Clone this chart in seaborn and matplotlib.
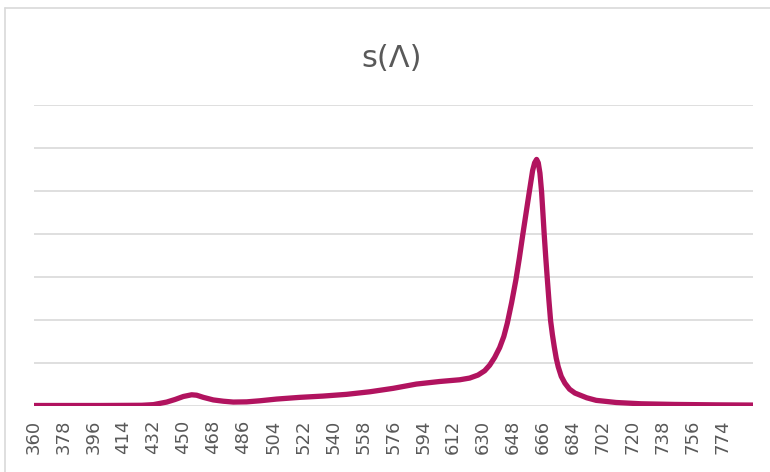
import numpy as np
import pandas as pd
import matplotlib
matplotlib.use("Agg")
import matplotlib.pyplot as plt
from matplotlib.lines import Line2D
import seaborn as sns

# spectrum (wavelength in nm, relative value)
wavelength = [360, 400, 425, 432, 440, 445, 450, 455, 458, 462, 468, 474,
              480, 488, 496, 506, 520, 534, 548, 562, 576, 590, 604, 616,
              622, 627, 631, 634, 637, 640, 642.5, 644.6, 647.2, 649.8,
              651.8, 653.8, 655.8, 657.8, 659.8, 661, 662.2, 663.2, 664.2,
              665.2, 666, 666.8, 667.7, 668.6, 669.6, 670.6, 671.7, 672.8,
              674, 675.2, 677, 679.2, 682, 685.2, 692.3, 698, 710, 725, 745,
              770, 792]
signal = [0.0, 0.0, 0.005, 0.02, 0.08, 0.14, 0.21, 0.25, 0.24, 0.19, 0.13,
          0.10, 0.08, 0.085, 0.11, 0.15, 0.19, 0.22, 0.26, 0.32, 0.40, 0.50,
          0.56, 0.60, 0.64, 0.71, 0.81, 0.94, 1.12, 1.35, 1.61, 1.92, 2.40,
          2.94, 3.43, 3.96, 4.47, 4.98, 5.48, 5.66, 5.74, 5.66, 5.42, 4.98,
          4.48, 3.97, 3.45, 2.97, 2.45, 1.98, 1.65, 1.37, 1.10, 0.90, 0.68,
          0.52, 0.38, 0.29, 0.18, 0.12, 0.07, 0.04, 0.025, 0.015, 0.01]
tick_labels = list(range(360, 775, 18))
title = "s(\u039b)"

df = pd.DataFrame({"wl": wavelength, "s": signal})

sns.set_style("white")
plt.rcParams["font.family"] = ["DejaVu Sans"]

text_grey = "#595959"
grid_grey = "#d9d9d9"
line_col = "#b1135f"

fig = plt.figure(figsize=(7.7, 4.72), dpi=100)
ax = fig.add_axes([33.5 / 770, 1 - 405.5 / 472, 719.2 / 770, 300.1 / 472])

sns.lineplot(data=df, x="wl", y="s", ax=ax, color=line_col, linewidth=3.8,
             solid_capstyle="round", solid_joinstyle="round", zorder=3)

ax.set_xlim(360, 792)
ax.set_ylim(0, 7)
ax.set_yticks(range(0, 8))
ax.set_yticklabels([])
ax.set_xticks(tick_labels)
ax.set_xticklabels([str(t) for t in tick_labels], rotation=90,
                   fontsize=13, color=text_grey)
ax.tick_params(axis="both", length=0)
ax.tick_params(axis="x", pad=10)
ax.grid(axis="y", color=grid_grey, linewidth=1.2)
ax.grid(axis="x", visible=False)
ax.set_xlabel("")
ax.set_ylabel("")
for sp in ax.spines.values():
    sp.set_visible(False)

fig.text(392 / 770, 1 - 66.7 / 472, title, ha="center", va="baseline",
         fontsize=22, color=text_grey)

# light chart-area border (left and top edges)
fig.add_artist(Line2D([5 / 770, 5 / 770], [0, 1 - 8 / 472],
                      transform=fig.transFigure, color=grid_grey, lw=1.2))
fig.add_artist(Line2D([5 / 770, 1], [1 - 8 / 472, 1 - 8 / 472],
                      transform=fig.transFigure, color=grid_grey, lw=1.2))

fig.savefig("out.png", dpi=100)
